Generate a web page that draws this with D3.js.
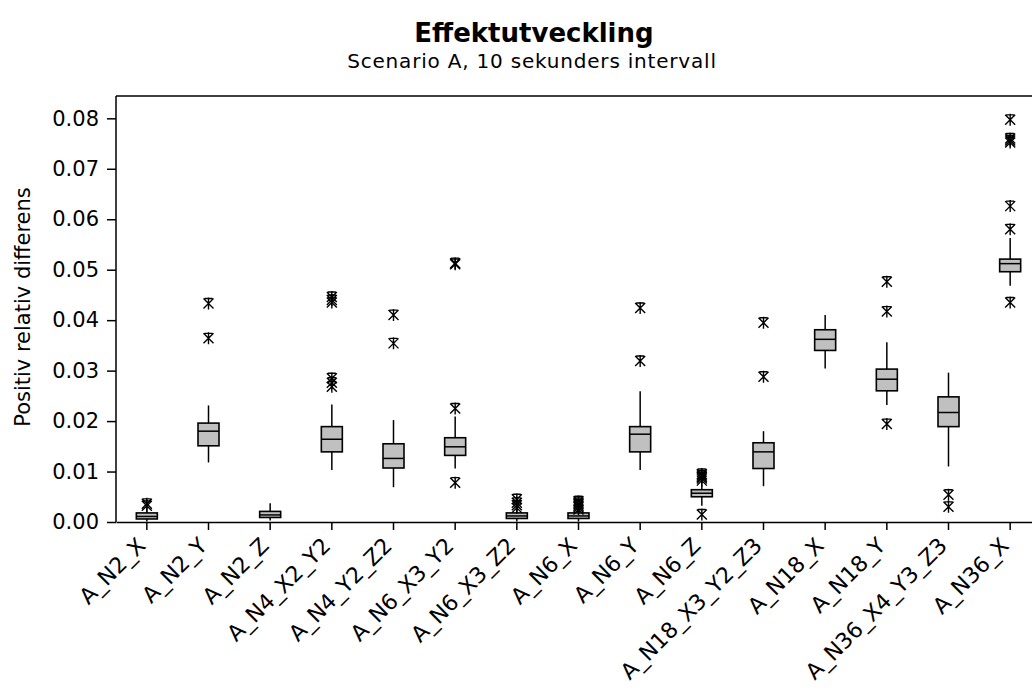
<!DOCTYPE html>
<html>
  <head>
    <meta charset="utf-8" />
    <title>Effektutveckling</title>
    <script src="https://cdn.jsdelivr.net/npm/d3@7"></script>
    <style type="text/css">
      body { margin: 0; background: #fff; }
      svg text { fill: #000; }
    </style>
  </head>
  <body>
    <svg id="chart" width="1032" height="698"></svg>
    <script type="text/javascript">
      // categories + box stats
      var categories = ['A_N2_X', 'A_N2_Y', 'A_N2_Z', 'A_N4_X2_Y2', 'A_N4_Y2_Z2', 'A_N6_X3_Y2',
        'A_N6_X3_Z2', 'A_N6_X', 'A_N6_Y', 'A_N6_Z', 'A_N18_X3_Y2_Z3', 'A_N18_X', 'A_N18_Y',
        'A_N36_X4_Y3_Z3', 'A_N36_X'];
      var whiskerLow = [0.0001, 0.0118, 0.0003, 0.0103, 0.0069, 0.0106, 0.0001, 0.0001, 0.0103, 0.0032, 0.0071, 0.0304, 0.0232, 0.0110, 0.0468];
      var q1 =         [0.0006, 0.0151, 0.0009, 0.0139, 0.0107, 0.0132, 0.0007, 0.0007, 0.0139, 0.0050, 0.0106, 0.0340, 0.0260, 0.0189, 0.0496];
      var median =     [0.0011, 0.0180, 0.0014, 0.0164, 0.0126, 0.0149, 0.0012, 0.0012, 0.0174, 0.0057, 0.0139, 0.0362, 0.0283, 0.0217, 0.0512];
      var q3 =         [0.0018, 0.0196, 0.0021, 0.0189, 0.0155, 0.0167, 0.0018, 0.0018, 0.0189, 0.0064, 0.0157, 0.0381, 0.0303, 0.0248, 0.0521];
      var whiskerHigh =[0.0025, 0.0231, 0.0037, 0.0233, 0.0202, 0.0209, 0.0025, 0.0024, 0.0259, 0.0074, 0.0180, 0.0410, 0.0356, 0.0296, 0.0563];
      var outliers = [
        [0.0032, 0.0036],
        [0.0364, 0.0433],
        [],
        [0.0268, 0.0276, 0.0285, 0.0435, 0.0440, 0.0446],
        [0.0354, 0.0410],
        [0.0078, 0.0225, 0.0511, 0.0513],
        [0.0028, 0.0033, 0.0038, 0.0045],
        [0.0025, 0.0029, 0.0032, 0.0035, 0.0038, 0.0041],
        [0.0319, 0.0424],
        [0.0015, 0.0082, 0.0086, 0.0089, 0.0092, 0.0095],
        [0.0288, 0.0395],
        [],
        [0.0194, 0.0417, 0.0476],
        [0.0030, 0.0054],
        [0.0435, 0.0580, 0.0626, 0.0752, 0.0756, 0.0760, 0.0797]
      ];
      var yTicks = [0, 0.01, 0.02, 0.03, 0.04, 0.05, 0.06, 0.07, 0.08];

      var svg = d3.select('#chart');
      var mLeft = 116, mTop = 96, mBottom = 522, mRight = 1041;

      var x = d3.scaleBand().domain(categories).range([mLeft, mRight]);
      var y = d3.scaleLinear().domain([0, 0.08]).range([mBottom, mBottom - 0.08 * 5046]);
      var bw = 21;

      // titles
      svg.append('text').attr('x', 534).attr('y', 42).attr('text-anchor', 'middle')
        .style('font-family', 'DejaVu Sans').style('font-weight', 'bold').style('font-size', '26px')
        .text('Effektutveckling');
      svg.append('text').attr('x', 532).attr('y', 68).attr('text-anchor', 'middle')
        .style('font-family', 'DejaVu Sans').style('font-size', '20px').style('letter-spacing', '0.8px')
        .text('Scenario A, 10 sekunders intervall');

      // frame: top line + left axis
      svg.append('line').attr('x1', mLeft).attr('x2', mRight).attr('y1', mTop).attr('y2', mTop)
        .attr('stroke', '#000').attr('stroke-width', 1.5);

      var yAxis = svg.append('g').attr('transform', 'translate(' + mLeft + ',0)')
        .call(d3.axisLeft(y).tickValues(yTicks).tickFormat(d3.format('.2f')).tickSize(9).tickPadding(8));
      yAxis.select('.domain').attr('d', 'M0,' + mTop + 'V' + mBottom).attr('stroke-width', 1.5);
      yAxis.selectAll('.tick line').attr('stroke-width', 1.5);
      yAxis.selectAll('text').style('font-family', 'DejaVu Sans').style('font-size', '21px');

      var xAxis = svg.append('g').attr('transform', 'translate(0,' + mBottom + ')')
        .call(d3.axisBottom(x).tickSize(8).tickSizeOuter(0));
      xAxis.select('.domain').attr('stroke-width', 1.5);
      xAxis.selectAll('.tick line').attr('stroke-width', 1.5);
      xAxis.selectAll('text')
        .style('font-family', 'DejaVu Sans').style('font-size', '22px')
        .attr('text-anchor', 'end')
        .attr('y', 0).attr('dy', 0)
        .attr('transform', 'translate(0,25) rotate(-45)');

      svg.append('text')
        .attr('transform', 'translate(30,' + ((mTop + mBottom) / 2 - 2) + ') rotate(-90)')
        .attr('text-anchor', 'middle')
        .style('font-family', 'DejaVu Sans').style('font-size', '21px')
        .text('Positiv relativ differens');

      var boxes = svg.append('g').selectAll('g').data(categories).join('g')
        .attr('transform', function (d) { return 'translate(' + (x(d) + x.bandwidth() / 2) + ',0)'; });

      // whiskers
      boxes.append('line').attr('y1', function (d, i) { return y(whiskerLow[i]); })
        .attr('y2', function (d, i) { return y(q1[i]); })
        .attr('stroke', '#000').attr('stroke-width', 1.5);
      boxes.append('line').attr('y1', function (d, i) { return y(q3[i]); })
        .attr('y2', function (d, i) { return y(whiskerHigh[i]); })
        .attr('stroke', '#000').attr('stroke-width', 1.5);

      boxes.append('rect').attr('x', -bw / 2).attr('width', bw)
        .attr('y', function (d, i) { return y(q3[i]); })
        .attr('height', function (d, i) { return y(q1[i]) - y(q3[i]); })
        .attr('fill', '#c0c0c0').attr('stroke', '#000').attr('stroke-width', 1.6);
      boxes.append('line').attr('x1', -bw / 2).attr('x2', bw / 2)
        .attr('y1', function (d, i) { return y(median[i]); })
        .attr('y2', function (d, i) { return y(median[i]); })
        .attr('stroke', '#000').attr('stroke-width', 1.5);

      // outlier asterisks
      var star = 'M0,-6V6M-5,-5L5,5M-5,5L5,-5M-4,-5H4';
      boxes.selectAll('path.out').data(function (d, i) { return outliers[i]; }).join('path')
        .attr('class', 'out')
        .attr('transform', function (v) { return 'translate(0,' + y(v) + ')'; })
        .attr('d', star).attr('fill', 'none').attr('stroke', '#000').attr('stroke-width', 1.4);
    </script>
  </body>
</html>
